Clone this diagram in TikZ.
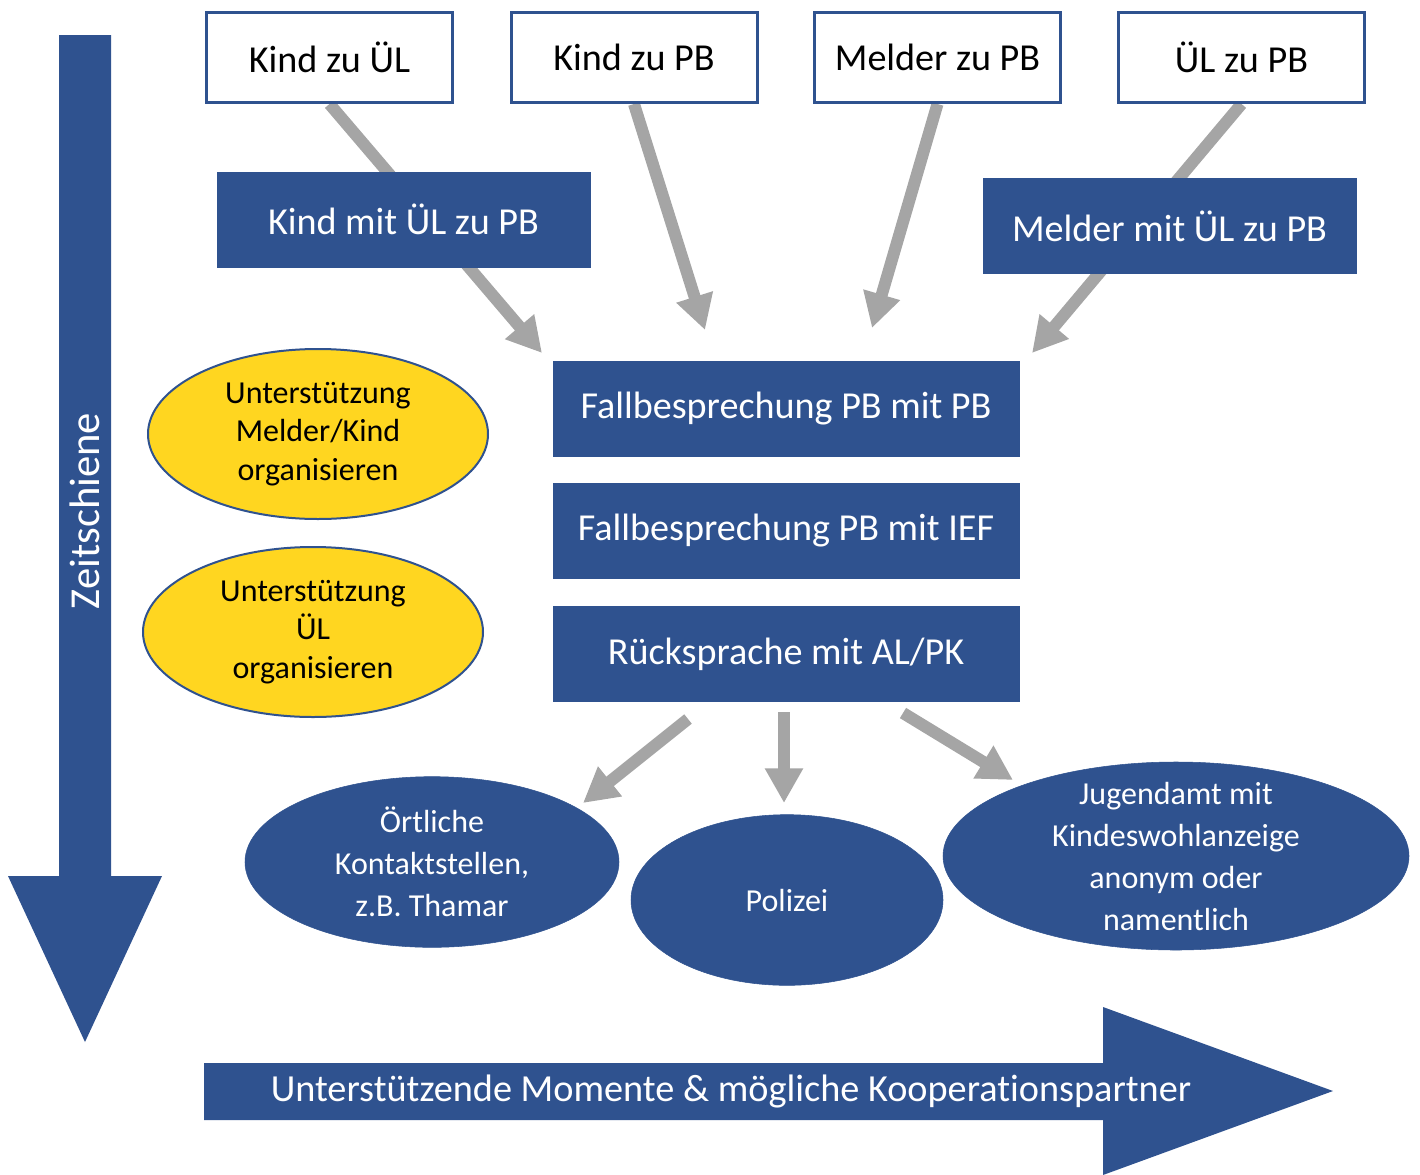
\documentclass[tikz,border=0pt]{standalone}
\usepackage{fontspec}
\setmainfont{Carlito}[Ligatures=NoCommon]
\usetikzlibrary{arrows.meta,shapes.geometric,backgrounds}
\definecolor{blau}{RGB}{47,82,143}
\definecolor{grau}{RGB}{165,165,165}
\definecolor{gelb}{RGB}{255,214,32}
\tikzset{
  quelle/.style={draw=blau,line width=2.25pt,fill=white,inner sep=0pt,
    minimum width=184.5pt,minimum height=67.5pt,font=\fontsize{28.6}{34}\selectfont},
  schritt/.style={fill=blau,draw=blau,text=white,inner sep=0pt,
    minimum height=71pt,font=\fontsize{28.6}{34}\selectfont},
  hilfe/.style={ellipse,draw=blau,line width=1.5pt,fill=gelb,inner sep=0pt,
    minimum width=255pt,minimum height=127.5pt},
  partner/.style={ellipse,fill=blau,draw=blau,inner sep=0pt,minimum height=128pt},
  ellschrift/.style={align=center,font=\fontsize{24}{31.5}\selectfont},
  grauerpfeil/.style={draw=grau,line width=9pt,-{Triangle[width=27pt,length=26pt]}}
}
\begin{document}
\begin{tikzpicture}[x=0.75pt,y=0.75pt,yscale=-1,xscale=1]
\useasboundingbox (0,0) rectangle (1420,1174);

% Zeitschiene
\fill[blau] (59,35) -- (111,35) -- (111,876) -- (162,876) -- (85,1042) -- (8,876) -- (59,876) -- cycle;
\node[rotate=90,text=white,font=\fontsize{32}{38}\selectfont] (zeit) at (85,511) {Zeitschiene};
% Kooperationspfeil
\fill[blau] (204,1063) -- (1103,1063) -- (1103,1007) -- (1333,1091) -- (1103,1175) -- (1103,1120) -- (204,1120) -- cycle;
\node[text=white,font=\fontsize{28.7}{34}\selectfont] (koop) at (731,1091) {Unterstützende Momente \& mögliche Kooperationspartner};

% Text Node
\node[quelle] (kindUL) at (329.5,57.5) {Kind zu ÜL};
\node[quelle] (kindPB) at (634,57.5) {Kind zu PB};
\node[quelle] (melderPB) at (937.5,57.5) {Melder zu PB};
\node[quelle] (ulPB) at (1241.5,57.5) {ÜL zu PB};
% Text Node
\node[schritt,minimum width=279.75pt] (kindmitUL) at (403.5,219.5) {Kind mit ÜL zu PB};
\node[schritt,minimum width=279.75pt] (meldermitUL) at (1169.5,226) {Melder mit ÜL zu PB};
\node[schritt,minimum width=349.5pt] (fallPB) at (786,408.5) {Fallbesprechung PB mit PB};
\node[schritt,minimum width=349.5pt] (fallIEF) at (786,531) {Fallbesprechung PB mit IEF};
\node[schritt,minimum width=349.5pt] (ruecksprache) at (786,654) {Rücksprache mit AL/PK};
% Ellipse
\node[hilfe,label={[ellschrift,font=\fontsize{24}{29}\selectfont]center:{Unterstützung\\Melder/Kind\\organisieren}}] (hilfeMelder) at (318,434) {};
\node[hilfe,label={[ellschrift,font=\fontsize{24}{29}\selectfont]center:{Unterstützung\\ÜL\\organisieren}}] (hilfeUL) at (313,632) {};
\node[partner,minimum width=280.5pt,label={[ellschrift,text=white]center:{Örtliche\\Kontaktstellen,\\z.B. Thamar}}] (oertlich) at (432,862) {};
\node[partner,minimum width=234pt,label={[ellschrift,text=white]center:{Polizei}}] (polizei) at (787,900) {};
\node[partner,minimum width=349.5pt,minimum height=141pt,label={[ellschrift,text=white]center:{Jugendamt mit\\Kindeswohlanzeige\\anonym oder\\namentlich}}] (jugendamt) at (1176,856) {};

% Pfeilenden
\coordinate (zielA) at (542,353);
\coordinate (zielB) at (705,330);
\coordinate (zielC) at (872,328);
\coordinate (zielD) at (1032,353);
\coordinate (startL) at (688,719);
\coordinate (startM) at (784,712);
\coordinate (startR) at (903,713);
\coordinate (zielL) at (583,803);
\coordinate (zielM) at (784,803);
\coordinate (zielR) at (1013,780);

% Connection
\begin{scope}[on background layer]
\draw[grauerpfeil] (kindUL.south) -- (zielA);
\draw[grauerpfeil] (kindPB.south) -- (zielB);
\draw[grauerpfeil] (melderPB.south) -- (zielC);
\draw[grauerpfeil] (ulPB.south) -- (zielD);
\draw[grauerpfeil] (startL) -- (zielL);
\draw[grauerpfeil] (startM) -- (zielM);
\draw[grauerpfeil] (startR) -- (zielR);
\end{scope}

\end{tikzpicture}
\end{document}
